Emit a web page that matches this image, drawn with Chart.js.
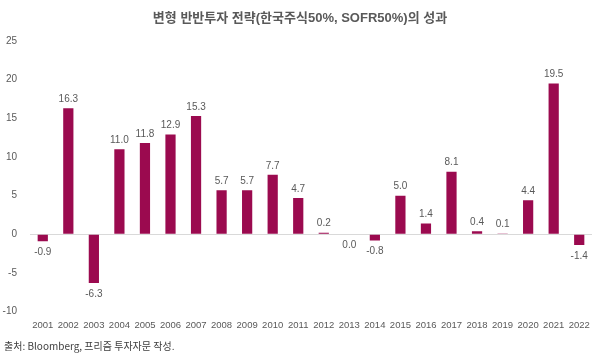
<!DOCTYPE html>
<html>
<head>
<meta charset="utf-8">
<script src="https://cdn.jsdelivr.net/npm/chart.js@4"></script>
<style>
  html, body { margin: 0; padding: 0; background: #fff; }
  #wrap { position: relative; width: 600px; height: 357px; }
  #title { position: absolute; left: 0; width: 600px; top: 9px; text-align: center;
    font-family: "Liberation Sans", "Noto Sans CJK KR", sans-serif; font-weight: bold;
    font-size: 13px; color: #595959; line-height: 18px; }
  #footer { position: absolute; left: 4px; top: 339px; font-family: "Noto Sans CJK KR", sans-serif;
    font-size: 10px; color: #404040; line-height: 14px; }
</style>
</head>
<body>
<div id="wrap">
  <canvas id="c" width="600" height="357"></canvas>
  <div id="title">변형 반반투자 전략(한국주식50%, SOFR50%)의 성과</div>
  <div id="footer">출처: Bloomberg, 프리즘 투자자문 작성.</div>
</div>
<script>
const years = ['2001','2002','2003','2004','2005','2006','2007','2008','2009','2010','2011',
  '2012','2013','2014','2015','2016','2017','2018','2019','2020','2021','2022'];
const returns = [-0.9, 16.3, -6.3, 11.0, 11.8, 12.9, 15.3, 5.7, 5.7, 7.7, 4.7,
  0.2, 0.0, -0.8, 5.0, 1.4, 8.1, 0.4, 0.1, 4.4, 19.5, -1.4];
const yTicks = [-10, -5, 0, 5, 10, 15, 20, 25];

const labelFont = '"Liberation Sans", Arial, sans-serif';

const valueLabels = {
  id: 'valueLabels',
  afterDatasetsDraw(chart) {
    const ctx = chart.ctx;
    const meta = chart.getDatasetMeta(0);
    ctx.save();
    ctx.font = '10px ' + labelFont;
    ctx.fillStyle = '#595959';
    ctx.textAlign = 'center';
    meta.data.forEach((el, i) => {
      const v = returns[i];
      if (v > 0) {
        ctx.textBaseline = 'bottom';
        ctx.fillText(v.toFixed(1), el.x, el.y - 4);
      } else {
        ctx.textBaseline = 'top';
        ctx.fillText(v.toFixed(1), el.x, el.y + 6);
      }
    });
    ctx.restore();
  }
};

new Chart(document.getElementById('c'), {
  type: 'bar',
  data: {
    labels: years,
    datasets: [{
      data: returns,
      backgroundColor: '#9B0A4F',
      borderWidth: 0,
      categoryPercentage: 1,
      barPercentage: 0.4
    }]
  },
  options: {
    responsive: false,
    animation: false,
    layout: { padding: { left: 0, right: 8, top: 41, bottom: 18 } },
    plugins: { legend: { display: false }, tooltip: { enabled: false }, title: { display: false } },
    scales: {
      x: {
        grid: { display: false, drawTicks: false },
        border: { display: false },
        ticks: { color: '#595959', font: { family: labelFont, size: 9.5 }, padding: 8, maxRotation: 0, autoSkip: false }
      },
      y: {
        min: -10, max: 25,
        afterBuildTicks(scale) { scale.ticks = yTicks.map(v => ({ value: v })); },
        afterFit(scale) { scale.width = 30; },
        grid: {
          color: ctx => (ctx.tick && ctx.tick.value === 0) ? '#d9d9d9' : 'rgba(0,0,0,0)',
          drawTicks: false, lineWidth: 1
        },
        border: { display: false },
        ticks: { color: '#595959', font: { family: labelFont, size: 10 }, padding: 13 }
      }
    }
  },
  plugins: [valueLabels]
});
</script>
</body>
</html>
